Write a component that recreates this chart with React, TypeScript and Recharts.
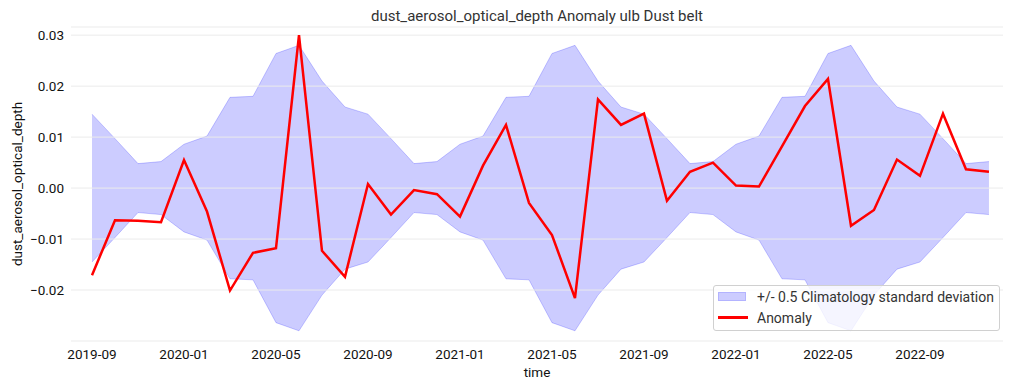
import React from 'react'
import { Area, CartesianGrid, ComposedChart, Legend, Line, XAxis, YAxis } from 'recharts'

// monthly time axis, 2019-09 .. 2022-12
const months = [
    '2019-09', '2019-10', '2019-11', '2019-12',
    '2020-01', '2020-02', '2020-03', '2020-04', '2020-05', '2020-06',
    '2020-07', '2020-08', '2020-09', '2020-10', '2020-11', '2020-12',
    '2021-01', '2021-02', '2021-03', '2021-04', '2021-05', '2021-06',
    '2021-07', '2021-08', '2021-09', '2021-10', '2021-11', '2021-12',
    '2022-01', '2022-02', '2022-03', '2022-04', '2022-05', '2022-06',
    '2022-07', '2022-08', '2022-09', '2022-10', '2022-11', '2022-12'
]

const anomaly = [
    -0.0171, -0.0063, -0.0064, -0.0067,
    0.0055, -0.0046, -0.0201, -0.0127, -0.0118, 0.03,
    -0.0123, -0.0174, 0.0008, -0.0052, -0.0004, -0.0012,
    -0.0056, 0.0044, 0.0124, -0.0029, -0.0092, -0.0216,
    0.0174, 0.0124, 0.0146, -0.0025, 0.0032, 0.005,
    0.0005, 0.0003, 0.0082, 0.0161, 0.0214, -0.0074,
    -0.0043, 0.0056, 0.0024, 0.0146, 0.0037, 0.0032
]

// +/- 0.5 climatology std band
const bandUpper = [
    0.0145, 0.0097, 0.0048, 0.0052,
    0.0086, 0.0102, 0.0178, 0.018, 0.0264, 0.028,
    0.021, 0.0159, 0.0145, 0.0097, 0.0048, 0.0052,
    0.0086, 0.0102, 0.0178, 0.018, 0.0264, 0.028,
    0.021, 0.0159, 0.0145, 0.0097, 0.0048, 0.0052,
    0.0086, 0.0102, 0.0178, 0.018, 0.0264, 0.028,
    0.021, 0.0159, 0.0145, 0.0097, 0.0048, 0.0052
]

const bandLower = [
    -0.0145, -0.0097, -0.0048, -0.0052,
    -0.0086, -0.0102, -0.0178, -0.018, -0.0264, -0.028,
    -0.021, -0.0159, -0.0145, -0.0097, -0.0048, -0.0052,
    -0.0086, -0.0102, -0.0178, -0.018, -0.0264, -0.028,
    -0.021, -0.0159, -0.0145, -0.0097, -0.0048, -0.0052,
    -0.0086, -0.0102, -0.0178, -0.018, -0.0264, -0.028,
    -0.021, -0.0159, -0.0145, -0.0097, -0.0048, -0.0052
]

const xTicks = [0, 4, 8, 12, 16, 20, 24, 28, 32, 36]
const yTicks = [-0.02, -0.01, 0, 0.01, 0.02, 0.03]

const data = months.map((m, i) => ({
    idx: i,
    month: m,
    band: [bandLower[i], bandUpper[i]],
    anomaly: anomaly[i]
}))

const FONT = 'Roboto, "DejaVu Sans", sans-serif'

const formatY = (v: number) => {
    const s = Math.abs(v).toFixed(2)
    return v < -1e-9 ? '\u2212' + s : s
}

function LegendBox() {
    const row = { display: 'flex', alignItems: 'center', height: 21 }
    return (
        <div
            style={{
                border: '1px solid #d0d0d0',
                borderRadius: 3,
                background: 'rgba(255,255,255,0.8)',
                padding: '0 5px 2px 4px',
                fontFamily: FONT,
                fontSize: 14,
                color: '#333',
                whiteSpace: 'nowrap'
            }}
        >
            <div style={row}>
                <span
                    style={{
                        width: 28,
                        height: 9,
                        background: 'rgba(0,0,255,0.2)',
                        border: '1px solid rgba(0,0,255,0.12)',
                        boxSizing: 'border-box',
                        marginRight: 11
                    }}
                />
                +/- 0.5 Climatology standard deviation
            </div>
            <div style={row}>
                <span style={{ width: 30, height: 2.5, background: 'red', marginRight: 9 }} />
                Anomaly
            </div>
        </div>
    )
}

export default function App() {
    return (
        <div style={{ position: 'absolute', left: 0, top: 0, width: 1014, height: 391, fontFamily: FONT }}>
            <ComposedChart
                width={1014}
                height={391}
                data={data}
                margin={{ top: 27, right: 11, bottom: 20, left: 0 }}
            >
                <XAxis
                    dataKey='idx'
                    type='number'
                    domain={[-0.913, 39.61]}
                    allowDataOverflow
                    ticks={xTicks}
                    tickFormatter={(v: number) => months[v] ?? ''}
                    axisLine={false}
                    tickLine={false}
                    tickSize={0}
                    tickMargin={8}
                    height={30}
                    tick={{ fill: '#111', fontSize: 13.5, fontFamily: FONT }}
                />
                <YAxis
                    type='number'
                    domain={[-0.03, 0.0316]}
                    allowDataOverflow
                    ticks={yTicks}
                    tickFormatter={formatY}
                    axisLine={false}
                    tickLine={false}
                    tickSize={0}
                    tickMargin={7}
                    width={71}
                    tick={{ fill: '#111', fontSize: 13.5, fontFamily: FONT }}
                />
                <Area
                    dataKey='band'
                    type='linear'
                    fill='#0000ff'
                    fillOpacity={0.2}
                    stroke='#0000ff'
                    strokeOpacity={0.2}
                    strokeWidth={1}
                    isAnimationActive={false}
                    name='+/- 0.5 Climatology standard deviation'
                />
                {/* grid sits above the band, under the line */}
                <CartesianGrid vertical={false} stroke='#ebebeb' strokeWidth={1} zIndex={150} />
                <Line
                    dataKey='anomaly'
                    type='linear'
                    stroke='#ff0000'
                    strokeWidth={2.5}
                    dot={false}
                    isAnimationActive={false}
                    name='Anomaly'
                />
                <Legend
                    layout='horizontal'
                    verticalAlign='middle'
                    align='center'
                    content={<LegendBox />}
                    wrapperStyle={{ left: 713, top: 285, width: 'auto', height: 'auto' }}
                />
                <text x={537} y={21} textAnchor='middle' fontSize={15} fill='#333' fontFamily={FONT}>
                    dust_aerosol_optical_depth Anomaly ulb Dust belt
                </text>
                <text x={537} y={377} textAnchor='middle' fontSize={13.5} fill='#111' fontFamily={FONT}>
                    time
                </text>
                <text
                    x={0}
                    y={0}
                    transform='translate(22,184) rotate(-90)'
                    textAnchor='middle'
                    fontSize={13.5}
                    fill='#111'
                    fontFamily={FONT}
                >
                    dust_aerosol_optical_depth
                </text>
            </ComposedChart>
        </div>
    )
}
